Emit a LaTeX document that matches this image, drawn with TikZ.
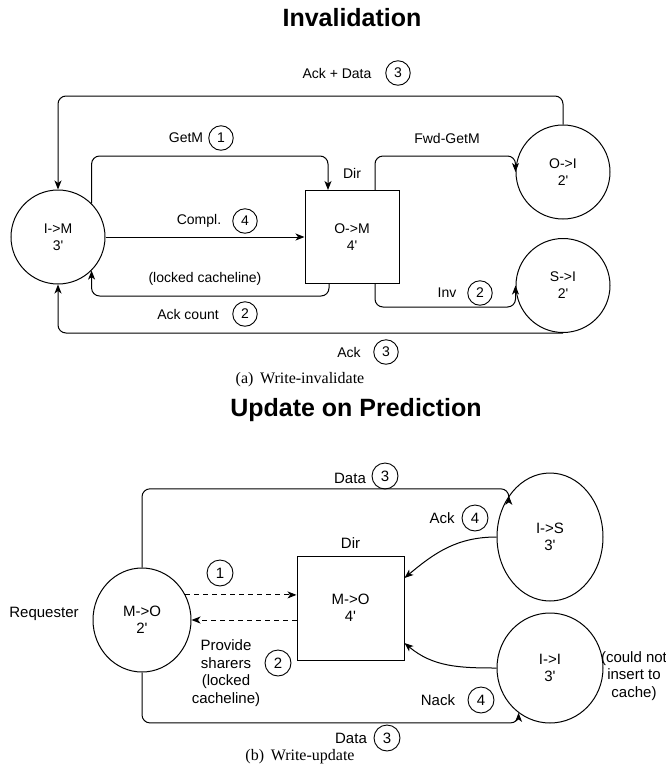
\documentclass[tikz,border=0pt]{standalone}
\usepackage{fontspec}
\setmainfont{Liberation Sans}
\newfontfamily\capfont{Liberation Serif}
\usepackage{tikz}
\usetikzlibrary{positioning}
\usetikzlibrary{shapes.geometric}
\usetikzlibrary{calc}
\usetikzlibrary{arrows.meta}

\tikzstyle{state}=[draw, ellipse, line width=1pt, inner sep=0pt, align=center]
\tikzstyle{dirbox}=[draw, rectangle, line width=1pt, inner sep=0pt, align=center]
\tikzstyle{badge}=[draw, circle, line width=0.9pt, minimum size=24.5pt, inner sep=0pt]
\tikzstyle{lbl}=[inner sep=0pt, align=center]
\tikzstyle{flow}=[line width=1pt, rounded corners=8pt, -{Stealth[length=9pt,width=7pt,inset=2.5pt]}]
\tikzstyle{heading}=[inner sep=0pt, font=\fontsize{25}{30}\selectfont\bfseries]
\tikzstyle{subcap}=[inner sep=0pt, font=\capfont\fontsize{16}{19}\selectfont]

\begin{document}
\begin{tikzpicture}[x=1pt, y=-1pt]
\fontsize{14}{17}\selectfont
\useasboundingbox (0,0) rectangle (666,780);

% write-invalidate
\node (invtitle) [heading] at (352,18) {Invalidation};
\node (im) 
	[state, minimum width=94pt, minimum height=94pt] at (58,237) 
	{I->M\\3\textquotesingle};
\node (om) 
	[dirbox, minimum width=94pt, minimum height=93pt] at (352,237) 
	{O->M\\4\textquotesingle};
\node (oi) 
	[state, minimum width=94pt, minimum height=94pt] at (563,172) 
	{O->I\\2\textquotesingle};
\node (si) 
	[state, minimum width=94pt, minimum height=94pt] at (563,285.5) 
	{S->I\\2\textquotesingle};
\node (dira) [lbl, above=11pt of om] {Dir};

\coordinate (toprow) at (0,96);
\coordinate (getrow) at (0,156);
\coordinate (lockrow) at (0,296);
\coordinate (invrow) at (0,307);
\coordinate (getin) at ($(om.north)+(-24,0)$);
\coordinate (fwdout) at ($(om.north)+(23,0)$);
\coordinate (lockout) at ($(om.south)+(-23,0)$);
\coordinate (invout) at ($(om.south)+(23,0)$);

\draw[flow] (oi.north) -- (oi.north |- toprow) -| (im.north);
\draw[flow] (im.45) -- (im.45 |- getrow) -| (getin);
\draw[flow] (im.east) -- (om.west);
\draw[flow] (lockout) -- (lockout |- lockrow) -| (im.-45);
\draw[flow] (fwdout) -- (fwdout |- getrow) -| (oi.west);
\draw[flow] (invout) -- (invout |- invrow) -| (si.west);
\draw[flow] (si.south) -| (im.south);

\node (ackdata) [lbl] at (337,73) {Ack + Data};
\node (ackdatanum) [badge] at (398,73) {3};
\node (getm) [lbl] at (186,138) {GetM};
\node (getmnum) [badge] at (221,138) {1};
\node (fwdgetm) [lbl] at (447,138) {Fwd-GetM};
\node (compl) [lbl] at (199,221) {Compl.};
\node (complnum) [badge] at (245,221) {4};
\node (locked) [lbl] at (205,279) {(locked cacheline)};
\node (ackcnt) [lbl] at (188,314) {Ack count};
\node (ackcntnum) [badge] at (245,314) {2};
\node (inv) [lbl] at (447,293) {Inv};
\node (invnum) [badge] at (480,293) {2};
\node (ack) [lbl] at (349,352) {Ack};
\node (acknum) [badge] at (386,352) {3};
\node (capa) [subcap] at (300,380) {(a)\, Write-invalidate};

% write-update
\node (updtitle) [heading] at (356,410) {Update on Prediction};
\begin{scope}[font=\fontsize{15}{17.5}\selectfont]
\node (mo) 
	[state, minimum width=98pt, minimum height=104pt] at (142,620) 
	{M->O\\2\textquotesingle};
\node (dirb) 
	[dirbox, minimum width=107pt, minimum height=104pt] at (350.5,608) 
	{M->O\\4\textquotesingle};
\node (is) 
	[state, minimum width=106pt, minimum height=128pt] at (550,537) 
	{I->S\\3\textquotesingle};
\node (ii) 
	[state, minimum width=106pt, minimum height=110pt] at (550,668) 
	{I->I\\3\textquotesingle};
\node (dirblbl) [lbl, above=7pt of dirb] {Dir};
\node (req) [lbl] at (44,614) {Requester};
\node (nocache) [lbl] at (634,676) {(could not\\insert to\\cache)};

\draw[flow, dash pattern=on 5pt off 4pt] (mo.30) -- (mo.30 -| dirb.west);
\draw[flow, dash pattern=on 5pt off 4pt] (dirb.west |- mo.east) -- (mo.east);
\draw[flow] (mo.north) |- ($(is.135)+(0,-7)$) -- (is.135);
\draw[flow] (mo.south) |- ($(ii.235)+(0,10)$) -- (ii.235);
\draw[flow] (is.west) to[out=180, in=40] ($(dirb.east)+(0,-30)$);
\draw[flow] (ii.west) to[out=180, in=-40] ($(dirb.east)+(0,35)$);

\node (datatop) [lbl] at (350,478) {Data};
\node (datatopnum) [badge, minimum size=26pt] at (385,476) {3};
\node (reqnum) [badge, minimum size=26pt] at (220,573) {1};
\node (provide) [lbl] at (226,673) {Provide\\sharers\\(locked\\cacheline)};
\node (providenum) [badge, minimum size=26pt] at (278,663) {2};
\node (ackb) [lbl] at (442,518) {Ack};
\node (ackbnum) [badge, minimum size=26pt] at (475,518) {4};
\node (nack) [lbl] at (438,700) {Nack};
\node (nacknum) [badge, minimum size=26pt] at (481,700) {4};
\node (databot) [lbl] at (351,738) {Data};
\node (databotnum) [badge, minimum size=26pt] at (387,738) {3};
\end{scope}
\node (capb) [subcap] at (300,757) {(b)\, Write-update};
\end{tikzpicture}
\end{document}
